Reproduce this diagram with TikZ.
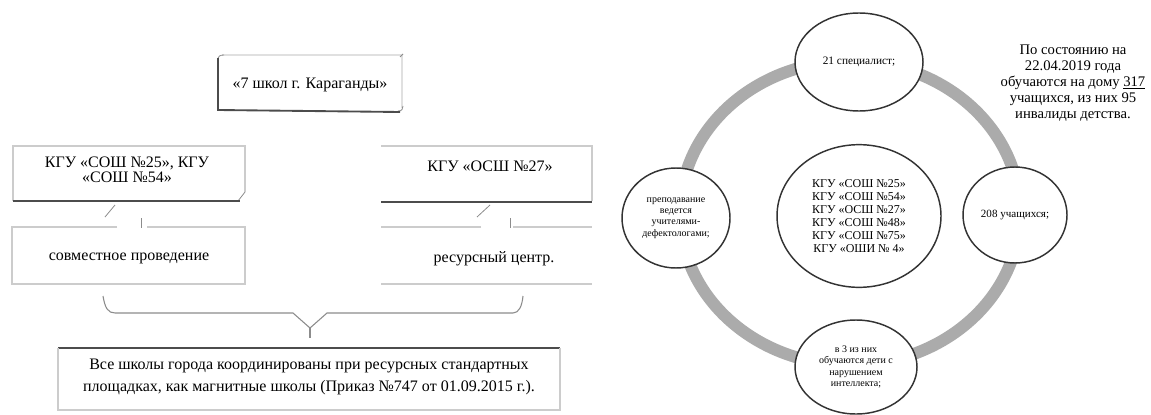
\documentclass[tikz,border=0pt]{standalone}
\usepackage{fontspec}
\setmainfont{Liberation Serif}
\usetikzlibrary{shapes.geometric}
\begin{document}
\begin{tikzpicture}[x=0.75pt,y=-0.75pt]
\useasboundingbox[fill=white] (0,0) rectangle (1151,414);
\tikzset{
 ov/.style={ellipse, draw=black!80, line width=1.1pt, fill=white, inner sep=0pt, align=center, font=\fontsize{7.5}{8.5}\selectfont},
 faint/.style={draw=black!20, line width=0.8pt},
 vfaint/.style={draw=black!12, line width=0.8pt},
 dark/.style={draw=black!70, line width=1.4pt},
 txt/.style={align=center, inner sep=0pt, font=\fontsize{12}{11.5}\selectfont},
 conn/.style={draw=black!45, line width=0.6pt},
 ringst/.style={draw=black!33, line width=9pt}
}
% ---------- left part ----------
% top scroll box
\draw[vfaint] (222,55) -- (402,55) -- (402,108);
\draw[conn] (218,60) .. controls (218,56) and (220,55) .. (224,55);
\draw[conn] (400,57) -- (403,54);
\draw[conn] (398,111) .. controls (402,111) and (403,109) .. (403,106);
\draw[dark] (218,58) -- (218,110) -- (400,112);
\node[txt] (top) at (310,85) {«7 школ г. Караганды»};
% upper boxes
\draw[faint] (13,201) -- (13,146) -- (245,146) -- (245,192);
\draw[conn] (238,201) -- (245,192);
\draw[dark] (13,201) -- (240,201);
\node[txt] (b1) at (127,170) {КГУ «СОШ №25», КГУ\\«СОШ №54»};
\draw[faint] (381,146) -- (592,146) -- (592,201);
\draw[dark] (381,202) -- (592,202);
\node[txt] (b2) at (490,166) {КГУ «ОСШ №27»};
% lower boxes
\draw[faint] (117,227) -- (12,227) -- (12,284) -- (245,284) -- (245,227) -- (147,227);
\node[txt] (c1) at (129,258) {совместное проведение};
\draw[faint] (481,227) -- (381,227) (513,227) -- (592,227);
\draw[faint] (381,284) -- (592,284);
\node[txt] (c2) at (494,259) {ресурсный центр.};
% connectors
\coordinate (b1s) at (115,205);
\coordinate (b1e) at (105,217);
\coordinate (c1n) at (141,218);
\coordinate (c1m) at (141,228);
\draw[conn] (b1s) -- (b1e);
\draw[conn] (c1n) -- (c1m);
\coordinate (b2s) at (490,205);
\coordinate (b2e) at (477,217);
\coordinate (c2n) at (510,218);
\coordinate (c2m) at (510,228);
\draw[conn] (b2s) -- (b2e);
\draw[conn] (c2n) -- (c2m);
% brace
\draw[conn, line width=0.8pt] (103,296) .. controls (105,308) and (108,313) .. (115,313) -- (293,313) -- (310,328) -- (327,313) -- (513,313) .. controls (519,313) and (522,306) .. (523,296);
\draw[conn, line width=0.8pt] (310,328) -- (310,338);
% bottom box
\draw[dark] (58,348) -- (560,348);
\draw[faint] (58,348) -- (58,410) -- (560,410) -- (560,348);
\node[align=center, inner sep=0pt, font=\fontsize{12}{17}\selectfont] (d) at (309,377) {Все школы города координированы при ресурсных стандартных\\площадках, как магнитные школы (Приказ №747 от 01.09.2015 г.).};
% ---------- right part ----------
\draw[ringst] (850,213) ellipse [x radius=127.5pt, y radius=114pt];
\node[ov, minimum width=96pt, minimum height=73.5pt, font=\fontsize{8.5}{9}\selectfont] (e1) at (859,62) {21 специалист;};
\node[ov, minimum width=78pt, minimum height=72pt, font=\fontsize{8.3}{9}\selectfont] (e2) at (1015,215) {208 учащихся;};
\node[ov, minimum width=91.5pt, minimum height=70.5pt] (e3) at (856,367) {в 3 из них\\обучаются дети с\\нарушением\\интеллекта;};
\node[ov, minimum width=81pt, minimum height=75pt] (e4) at (676,218) {преподавание\\ведется\\учителями-\\дефектологами;};
\node[ov, minimum width=123pt, minimum height=107pt, font=\fontsize{9}{9.75}\selectfont] (e0) at (859,216) {КГУ «СОШ №25»\\КГУ «СОШ №54»\\КГУ «ОСШ №27»\\КГУ «СОШ №48»\\КГУ «СОШ №75»\\КГУ «ОШИ № 4»};
\node[align=center, inner sep=0pt, font=\fontsize{11}{12}\selectfont] (info) at (1073,83) {По состоянию на\\22.04.2019 года\\обучаются на дому \underline{317}\\учащихся, из них 95\\инвалиды детства.};
\end{tikzpicture}
\end{document}
